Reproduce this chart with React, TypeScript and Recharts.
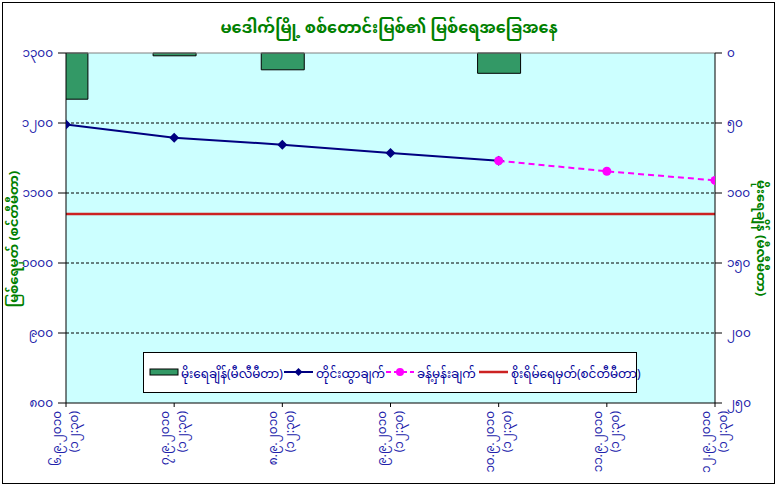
import React from "react";
import {
    ComposedChart,
    Bar,
    Line,
    XAxis,
    YAxis,
    CartesianGrid,
    ReferenceLine,
    Legend,
} from "recharts";

// daily readings, Sittaung river at Madauk
const dates = [
    "၆.၉.၂၀၁၀",
    "၇.၉.၂၀၁၀",
    "၈.၉.၂၀၁၀",
    "၉.၉.၂၀၁၀",
    "၁၀.၉.၂၀၁၀",
    "၁၁.၉.၂၀၁၀",
    "၁၂.၉.၂၀၁၀",
];
const readTime = "(၁၂:၃၀)";
const rainfall = [33, 2, 12, 0, 14.5, null, null]; // mm
const measured = [1198, 1179, 1169, 1157, 1146, null, null]; // cm
const forecast = [null, null, null, null, 1146, 1131, 1118]; // cm
const DANGER_LEVEL = 1070;

const levelTicks = [800, 900, 1000, 1100, 1200, 1300];
const rainTicks = [0, 50, 100, 150, 200, 250];
const gridLevels = [900, 1000, 1100, 1200];

const data = dates.map((date, i) => ({
    idx: i,
    date,
    rain: rainfall[i],
    measured: measured[i],
    forecast: forecast[i],
}));

const FONT = "'Noto Sans Myanmar', 'Padauk', 'Myanmar Text', 'Noto Sans', 'DejaVu Sans', sans-serif";
const BLUE = "#2222aa";
const GREEN = "#008000";
const NAVY = "#000080";
const MAGENTA = "#ff00ff";
const RED = "#cc2222";
const BAR_GREEN = "#339966";

const mmDigits = "၀၁၂၃၄၅၆၇၈၉";
const toMyanmar = (n: number) => String(n).replace(/\d/g, (d) => mmDigits[Number(d)]);

const DateTick = (props: any) => {
    const { x, y, payload } = props;
    return (
        <g transform={`translate(${x},${y})`}>
            <text transform="rotate(-90)" textAnchor="end" fill={BLUE} fontSize={12} fontFamily={FONT}>
                <tspan x={-2} y={-5}>{dates[payload.value]}</tspan>
                <tspan x={-2} y={12}>{readTime}</tspan>
            </text>
        </g>
    );
};

const renderDiamond = (props: any) => {
    const { cx, cy, index } = props;
    if (cx == null || cy == null) return <g key={`d-${index}`} />;
    const s = 5;
    return (
        <polygon
            key={`d-${index}`}
            points={`${cx},${cy - s} ${cx + s},${cy} ${cx},${cy + s} ${cx - s},${cy}`}
            fill={NAVY}
        />
    );
};

const legendText: React.CSSProperties = { position: "absolute", top: 9, whiteSpace: "nowrap" };

const LegendBox = () => (
    <div
        style={{
            position: "relative",
            width: 494,
            height: 41,
            boxSizing: "border-box",
            border: "1px solid #000",
            background: "#fff",
            fontFamily: FONT,
            fontSize: 12,
            color: "#000099",
        }}
    >
        <svg width={494} height={41} style={{ position: "absolute", left: 0, top: 0 }}>
            <rect x={6} y={16} width={28} height={6} fill={BAR_GREEN} stroke="#000" />
            <line x1={140} x2={169} y1={19} y2={19} stroke={NAVY} strokeWidth={2} />
            <polygon points="154.5,15 158.5,19 154.5,23 150.5,19" fill={NAVY} />
            <line x1={242} x2={270} y1={19} y2={19} stroke={MAGENTA} strokeWidth={2} strokeDasharray="5 3" />
            <circle cx={256} cy={19} r={4} fill={MAGENTA} />
            <line x1={335} x2={364} y1={19} y2={19} stroke={RED} strokeWidth={2.5} />
        </svg>
        <span style={{ ...legendText, left: 37 }}>မိုးရေချိန်(မီလီမီတာ)</span>
        <span style={{ ...legendText, left: 172 }}>တိုင်းထွာချက်</span>
        <span style={{ ...legendText, left: 273 }}>ခန့်မှန်းချက်</span>
        <span style={{ ...legendText, left: 367 }}>စိုးရိမ်ရေမှတ်(စင်တီမီတာ)</span>
    </div>
);

export default function App() {
    return (
        <div style={{ position: "absolute", left: 0, top: 0, width: 778, height: 488, background: "#fff" }}>
            <div
                style={{
                    position: "absolute",
                    left: 2,
                    top: 2,
                    width: 773,
                    height: 482,
                    border: "1px solid #000",
                    boxSizing: "border-box",
                }}
            />
            <div
                style={{
                    position: "absolute",
                    left: 0,
                    width: 778,
                    top: 12,
                    textAlign: "center",
                    fontFamily: FONT,
                    fontWeight: "bold",
                    fontSize: 16,
                    color: GREEN,
                }}
            >
                မဒေါက်မြို့ စစ်တောင်းမြစ်၏ မြစ်ရေအခြေအနေ
            </div>
            <div
                style={{
                    position: "absolute",
                    left: 15,
                    top: 239,
                    transform: "translate(-50%, -50%) rotate(-90deg)",
                    whiteSpace: "nowrap",
                    fontFamily: FONT,
                    fontWeight: "bold",
                    fontSize: 13,
                    color: GREEN,
                }}
            >
                မြစ်ရေမှတ် (စင်တီမီတာ)
            </div>
            <div
                style={{
                    position: "absolute",
                    left: 760,
                    top: 238,
                    transform: "translate(-50%, -50%) rotate(90deg)",
                    whiteSpace: "nowrap",
                    fontFamily: FONT,
                    fontWeight: "bold",
                    fontSize: 13,
                    color: GREEN,
                }}
            >
                မိုးရေချိန် (မီလီမီတာ)
            </div>
            <ComposedChart
                width={778}
                height={488}
                data={data}
                margin={{ top: 53, right: 8, bottom: 8, left: 8 }}
                style={{ position: "absolute", left: 0, top: 0 }}
            >
                <CartesianGrid fill="#ccffff" horizontal={false} vertical={false} yAxisId="left" />
                <XAxis
                    dataKey="idx"
                    type="number"
                    domain={[0, 6]}
                    ticks={[0, 1, 2, 3, 4, 5, 6]}
                    allowDataOverflow
                    interval={0}
                    height={77}
                    tickSize={4}
                    tickMargin={2}
                    stroke="#000"
                    tick={<DateTick />}
                />
                <YAxis
                    yAxisId="left"
                    domain={[800, 1300]}
                    ticks={levelTicks}
                    tickFormatter={toMyanmar}
                    width={58}
                    tickSize={8}
                    tickMargin={5}
                    stroke="#000"
                    tick={{ fill: BLUE, fontSize: 12, fontFamily: FONT }}
                />
                <YAxis
                    yAxisId="right"
                    orientation="right"
                    reversed
                    domain={[0, 250]}
                    ticks={rainTicks}
                    tickFormatter={toMyanmar}
                    width={55}
                    tickSize={7}
                    tickMargin={5}
                    stroke="#000"
                    tick={{ fill: BLUE, fontSize: 12, fontFamily: FONT, textAnchor: "start" }}
                />
                {gridLevels.map((v) => (
                    <ReferenceLine key={v} yAxisId="left" y={v} stroke="#000" strokeDasharray="3 2" />
                ))}
                <ReferenceLine yAxisId="left" y={1300} stroke="#808080" />
                <ReferenceLine yAxisId="left" y={DANGER_LEVEL} stroke={RED} strokeWidth={2.5} />
                <Bar
                    yAxisId="right"
                    dataKey="rain"
                    fill={BAR_GREEN}
                    stroke="#000"
                    strokeWidth={1}
                    barSize={43}
                    isAnimationActive={false}
                />
                <Line
                    yAxisId="left"
                    type="linear"
                    dataKey="measured"
                    stroke={NAVY}
                    strokeWidth={2}
                    dot={renderDiamond}
                    activeDot={false}
                    isAnimationActive={false}
                />
                <Line
                    yAxisId="left"
                    type="linear"
                    dataKey="forecast"
                    stroke={MAGENTA}
                    strokeWidth={2}
                    strokeDasharray="6 4"
                    dot={{ r: 4.5, fill: MAGENTA, stroke: MAGENTA, strokeWidth: 0 }}
                    activeDot={false}
                    isAnimationActive={false}
                />
                <Legend
                    layout="horizontal"
                    verticalAlign="middle"
                    align="center"
                    content={() => <LegendBox />}
                    wrapperStyle={{ left: 143, top: 352, bottom: "auto", width: 494, height: 41 }}
                />
            </ComposedChart>
        </div>
    );
}
